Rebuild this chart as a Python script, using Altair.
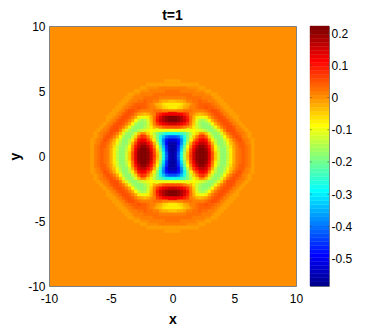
import altair as alt
import pandas as pd

# Quadrant of the field (x>=0, y>=0), in hundredths. Columns step 0.25 from x=0, rows step 0.25 from y=0.
r00 = [-56,-54,-42,-27,-14,-3,8,15,20,22,22,20,14,5,-5,-13,-18,-18,-14,-8,-3,1,3,4,3,1,-1,0]
r01 = [-56,-54,-43,-28,-15,-4,7,15,20,22,22,20,14,5,-5,-13,-18,-18,-14,-8,-3,1,3,4,3,1,-1,0]
r02 = [-56,-55,-45,-31,-18,-6,5,13,19,22,22,19,13,3,-7,-14,-18,-17,-13,-7,-2,1,3,4,3,1,-1,0]
r03 = [-56,-55,-47,-34,-21,-9,2,10,16,20,20,17,10,1,-9,-15,-18,-16,-12,-6,-1,2,4,4,3,1,-1,0]
r04 = [-55,-55,-49,-38,-25,-14,-3,6,12,16,17,14,7,-3,-12,-17,-18,-15,-10,-4,0,3,4,4,2,0,-1,0]
r05 = [-52,-52,-48,-39,-27,-17,-8,0,7,12,13,10,2,-8,-14,-18,-17,-13,-7,-2,2,4,5,3,1,0,-1,0]
r06 = [-43,-43,-40,-34,-26,-19,-12,-5,2,7,8,4,-5,-12,-17,-18,-15,-9,-3,1,4,5,4,2,0,-1,0,0]
r07 = [-28,-28,-27,-25,-22,-19,-14,-10,-5,0,0,-4,-11,-16,-18,-16,-11,-4,1,4,5,4,3,1,0,-1,0,0]
r08 = [-10,-10,-10,-10,-10,-10,-10,-9,-10,-11,-12,-15,-17,-18,-15,-11,-5,1,5,5,5,3,1,0,-1,0,0,0]
r09 = [5,5,5,4,2,0,-3,-7,-12,-15,-17,-18,-18,-15,-10,-4,1,4,5,5,4,2,0,-1,0,0,0,0]
r10 = [15,15,14,13,10,6,1,-5,-12,-16,-18,-18,-15,-9,-3,2,4,5,5,4,2,0,-1,0,0,0,0,0]
r11 = [21,21,20,18,15,10,3,-4,-11,-15,-16,-14,-9,-3,2,4,5,5,4,2,0,-1,0,0,0,0,0,0]
r12 = [21,21,20,18,14,9,3,-3,-7,-10,-10,-7,-3,1,4,5,5,4,2,0,-1,-1,0,0,0,0,0,0]
r13 = [13,13,13,12,9,6,2,0,-2,-4,-3,-1,2,4,5,5,4,2,0,-1,-1,0,0,0,0,0,0,0]
r14 = [0,0,1,2,3,3,3,2,2,2,2,3,4,5,5,4,2,0,-1,-1,0,0,0,0,0,0,0,0]
r15 = [-7,-7,-6,-5,-3,-1,1,2,3,4,4,5,4,4,3,1,0,-1,-1,0,0,0,0,0,0,0,0,0]
r16 = [-8,-8,-7,-6,-4,-2,0,2,3,4,4,4,4,3,1,0,-1,-1,0,0,0,0,0,0,0,0,0,0]
r17 = [-4,-4,-3,-2,-1,1,2,3,3,4,3,3,2,1,0,-1,-1,0,0,0,0,0,0,0,0,0,0,0]
r18 = [1,1,1,2,2,3,3,3,3,3,2,1,1,0,-1,-1,0,0,0,0,0,0,0,0,0,0,0,0]
r19 = [3,3,3,3,3,3,3,2,2,1,1,0,0,-1,-1,0,0,0,0,0,0,0,0,0,0,0,0,0]
r20 = [3,3,3,2,2,2,1,1,0,0,0,-1,-1,0,0,0,0,0,0,0,0,0,0,0,0,0,0,0]
r21 = [1,1,1,1,1,0,0,0,0,-1,-1,0,0,0,0,0,0,0,0,0,0,0,0,0,0,0,0,0]
r22 = [-1,-1,-1,-1,-1,-1,-1,-1,-1,0,0,0,0,0,0,0,0,0,0,0,0,0,0,0,0,0,0,0]
r23 = [-1,-1,-1,0,0,0,0,0,0,0,0,0,0,0,0,0,0,0,0,0,0,0,0,0,0,0,0,0]
rows = [r00,r01,r02,r03,r04,r05,r06,r07,r08,r09,r10,r11,r12,r13,r14,r15,r16,r17,r18,r19,r20,r21,r22,r23]

STEP = 0.25
VMIN, VMAX = -0.585, 0.222
axis_ticks = [-10, -5, 0, 5, 10]
cbar_ticks = [0.2, 0.1, 0, -0.1, -0.2, -0.3, -0.4, -0.5]

def jet(n=64):
    out = []
    for i in range(n):
        t = (i + 1) / n
        r = max(0, min(1, min(4*t - 1.5, -4*t + 4.5)))
        g = max(0, min(1, min(4*t - 0.5, -4*t + 3.5)))
        b = max(0, min(1, min(4*t + 0.5, -4*t + 2.5)))
        out.append("#%02x%02x%02x" % (round(r*255), round(g*255), round(b*255)))
    return out

colors = jet()
color_scale = alt.Scale(type="quantize", domain=[VMIN, VMAX], range=colors)

cells = []
for j, row in enumerate(rows):
    for i, v in enumerate(row):
        if v == 0:
            continue
        for sx in ((1, -1) if i else (1,)):
            for sy in ((1, -1) if j else (1,)):
                xc, yc = sx * i * STEP, sy * j * STEP
                cells.append(dict(x=xc - STEP/2, x2=xc + STEP/2, y=yc - STEP/2, y2=yc + STEP/2, v=v / 100))
df = pd.DataFrame(cells)

FONT = "Liberation Sans"
HYPHEN = "replace(format(datum.value, ''), /[−]/, '-')"
xs = alt.Scale(domain=[-10, 10], nice=False, zero=False)
ys = alt.Scale(domain=[-10, 10], nice=False, zero=False)

main = (
    alt.Chart(df, title=alt.TitleParams("t=1", font=FONT, fontSize=14, fontWeight="bold", color="#000", offset=-3, anchor="middle", frame="group"))
    .mark_rect(strokeWidth=0.6)
    .encode(
        x=alt.X("x:Q", scale=xs, axis=alt.Axis(values=axis_ticks, title="x", grid=False, ticks=False, domain=False, labelAngle=0, labelExpr=HYPHEN,
                labelFont=FONT, labelFontSize=12, labelColor="#000", labelPadding=7, labelFlush=False, titleFont=FONT, titleFontSize=14, titleFontWeight="bold", titleColor="#000", titlePadding=8)),
        x2="x2:Q",
        y=alt.Y("y:Q", scale=ys, axis=alt.Axis(values=axis_ticks, title="y", grid=False, ticks=False, domain=False, labelExpr=HYPHEN,
                labelFont=FONT, labelFontSize=12, labelColor="#000", labelPadding=4, labelFlush=False, titleFont=FONT, titleFontSize=14, titleFontWeight="bold", titleColor="#000", titlePadding=5)),
        y2="y2:Q",
        color=alt.Color("v:Q", scale=color_scale, legend=None),
        stroke=alt.Stroke("v:Q", scale=color_scale, legend=None),
    )
    .properties(width=247, height=260, view=alt.ViewConfig(fill=colors[46], stroke="#808080"))
)

band = (VMAX - VMIN) / len(colors)
bar_df = pd.DataFrame([dict(a=0, b=1, lo=VMIN + k*band, hi=VMIN + (k+1)*band, mid=VMIN + (k+0.5)*band) for k in range(len(colors))])
tick_df = pd.DataFrame([dict(a=a, b=b, t=t) for t in cbar_ticks for a, b in ((0, 0.08), (0.92, 1))])
bys = alt.Scale(domain=[VMIN, VMAX], nice=False, zero=False)
bar_axis = alt.Axis(orient="right", values=cbar_ticks, title=None, grid=False, ticks=False, domain=False,
                    labelFont=FONT, labelFontSize=12, labelColor="#000", labelPadding=2, labelExpr=HYPHEN, labelFlush=False, labelOverlap=False)
bar_rect = alt.Chart(bar_df).mark_rect(strokeWidth=0.4).encode(
    x=alt.X("a:Q", scale=alt.Scale(domain=[0, 1]), axis=None),
    x2="b:Q",
    y=alt.Y("lo:Q", scale=bys, axis=bar_axis),
    y2="hi:Q",
    color=alt.Color("mid:Q", scale=alt.Scale(type="quantize", domain=[VMIN, VMAX], range=colors), legend=None),
    stroke=alt.Stroke("mid:Q", scale=alt.Scale(type="quantize", domain=[VMIN, VMAX], range=colors), legend=None),
)
bar_ticks = alt.Chart(tick_df).mark_rule(color="#444", strokeWidth=0.6).encode(
    x=alt.X("a:Q", scale=alt.Scale(domain=[0, 1]), axis=None), x2="b:Q",
    y=alt.Y("t:Q", scale=bys, axis=bar_axis),
)
bar = alt.layer(bar_rect, bar_ticks).properties(width=19, height=260, view=alt.ViewConfig(stroke="#808080"))

chart = alt.hconcat(main, bar, spacing=5, padding=0).resolve_scale(color="independent", stroke="independent", y="independent", x="independent")
chart = chart.configure_view(stroke="#808080").configure_axis(labelOverlap=False)
chart.save("out.html", embed_options={"renderer": "svg", "actions": False})
